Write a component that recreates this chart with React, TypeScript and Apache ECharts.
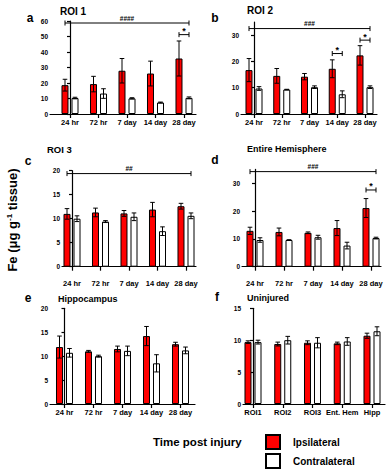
import React, { useEffect, useRef } from 'react';
import * as echarts from 'echarts';

// ---------- data ----------
const timeCats = ['24 hr', '72 hr', '7 day', '14 day', '28 day'];
const regionCats = ['ROI1', 'ROI2', 'ROI3', 'Ent. Hem', 'Hipp'];

const roi1Ipsi = [18.6, 19.3, 27.9, 26.1, 35.8];
const roi1IpsiErr = [3.8, 5.0, 7.9, 8.0, 11.3];
const roi1Contra = [10.3, 13.2, 10.1, 7.4, 10.4];
const roi1ContraErr = [0.5, 3.1, 0.4, 0.3, 0.6];

const roi2Ipsi = [16.7, 14.5, 14.2, 17.2, 22.3];
const roi2IpsiErr = [4.4, 2.8, 1.2, 3.4, 3.7];
const roi2Contra = [9.7, 9.3, 10.2, 7.5, 10.2];
const roi2ContraErr = [0.7, 0.1, 0.5, 1.3, 0.5];

const roi3Ipsi = [11.0, 11.3, 11.1, 11.9, 12.6];
const roi3IpsiErr = [1.1, 0.9, 0.6, 1.5, 0.6];
const roi3Contra = [10.0, 9.4, 10.4, 7.4, 10.6];
const roi3ContraErr = [0.6, 0.2, 0.8, 0.9, 0.6];

const hemiIpsi = [12.9, 12.5, 12.2, 13.9, 21.1];
const hemiIpsiErr = [1.3, 1.4, 0.3, 2.7, 3.4];
const hemiContra = [9.6, 9.6, 10.6, 7.6, 10.3];
const hemiContraErr = [0.8, 0.1, 0.7, 1.2, 0.3];

const hippIpsi = [11.9, 11.0, 11.5, 14.2, 12.5];
const hippIpsiErr = [2.3, 0.2, 0.6, 2.0, 0.4];
const hippContra = [10.7, 10.0, 11.1, 8.5, 11.2];
const hippContraErr = [0.9, 0.2, 1.0, 1.8, 0.7];

const uninjIpsi = [9.7, 9.4, 9.6, 9.5, 10.7];
const uninjIpsiErr = [0.2, 0.3, 0.3, 0.2, 0.4];
const uninjContra = [9.7, 10.0, 9.6, 9.8, 11.4];
const uninjContraErr = [0.3, 0.6, 0.8, 0.6, 0.7];

const ticks60 = [0, 10, 20, 30, 40, 50, 60];
const ticks35 = [0, 10, 20, 30];
const ticks20 = [0, 5, 10, 15, 20];
const ticks15 = [0, 5, 10, 15];

const legendNames = ['Ipsilateral', 'Contralateral'];

// significance brackets: from category, to category, height, label
const bracketsA = [
  { from: 0, to: 4, y: 58.7, label: '####' },
  { from: 4, to: 4, y: 51.2, label: '*' },
];
const bracketsB = [
  { from: 0, to: 4, y: 32.5, label: '###' },
  { from: 3, to: 3, y: 23.0, label: '*' },
  { from: 4, to: 4, y: 28.1, label: '*' },
];
const bracketsC = [{ from: 0, to: 4, y: 19.4, label: '##' }];
const bracketsD = [
  { from: 0, to: 4, y: 34.2, label: '###' },
  { from: 4, to: 4, y: 27.6, label: '*' },
];

// ---------- layout / style ----------
const FONT = '"Liberation Sans", Arial, Helvetica, sans-serif';
const OFF = 5; // half distance between paired bar centres (px)

const panels = [
  { letter: 'a', title: 'ROI 1', titleSize: 10, cats: timeCats, ipsi: roi1Ipsi, ipsiErr: roi1IpsiErr, contra: roi1Contra, contraErr: roi1ContraErr, yMax: 60, yTicks: ticks60, brackets: bracketsA,
    L: { axisX: 50, first: 70, step: 28.5, right: 196, top: 21, bottom: 114, margin: 4, lx: 30, ly: 18, tx: 60, ty: 11 } },
  { letter: 'b', title: 'ROI 2', titleSize: 10, cats: timeCats, ipsi: roi2Ipsi, ipsiErr: roi2IpsiErr, contra: roi2Contra, contraErr: roi2ContraErr, yMax: 35, yTicks: ticks35, brackets: bracketsB,
    L: { axisX: 241, first: 254, step: 27.75, right: 377, top: 22, bottom: 114, margin: 4, lx: 215, ly: 18, tx: 247, ty: 10 } },
  { letter: 'c', title: 'ROI 3', titleSize: 9.5, cats: timeCats, ipsi: roi3Ipsi, ipsiErr: roi3IpsiErr, contra: roi3Contra, contraErr: roi3ContraErr, yMax: 20, yTicks: ticks20, brackets: bracketsC,
    L: { axisX: 62, first: 72, step: 28.5, right: 196, top: 170.7, bottom: 266.7, margin: 13, lx: 28, ly: 161, tx: 47, ty: 149.5 } },
  { letter: 'd', title: 'Entire Hemisphere', titleSize: 9, cats: timeCats, ipsi: hemiIpsi, ipsiErr: hemiIpsiErr, contra: hemiContra, contraErr: hemiContraErr, yMax: 35, yTicks: ticks35, brackets: bracketsD,
    L: { axisX: 242, first: 255, step: 29, right: 381, top: 169.4, bottom: 266.7, margin: 13, lx: 215, ly: 160, tx: 247, ty: 149 } },
  { letter: 'e', title: 'Hippocampus', titleSize: 9, cats: timeCats, ipsi: hippIpsi, ipsiErr: hippIpsiErr, contra: hippContra, contraErr: hippContraErr, yMax: 20, yTicks: ticks20, brackets: [],
    L: { axisX: 50, first: 64.5, step: 29, right: 195, top: 308.3, bottom: 404, margin: 4, lx: 28, ly: 298, tx: 58, ty: 299 } },
  { letter: 'f', title: 'Uninjured', titleSize: 9, cats: regionCats, ipsi: uninjIpsi, ipsiErr: uninjIpsiErr, contra: uninjContra, contraErr: uninjContraErr, yMax: 15, yTicks: ticks15, brackets: [],
    L: { axisX: 243, first: 253, step: 29.75, right: 385, top: 308.3, bottom: 404, margin: 4, lx: 217, ly: 297, tx: 247, ty: 298 } },
];

const legendTops = [434, 453];
const lineStyle = { color: '#000', width: 1.2 };

function buildOption() {
  const grid: any[] = [];
  const xAxis: any[] = [];
  const yAxis: any[] = [];
  const series: any[] = [];
  const graphic: any[] = [];

  panels.forEach((p, i) => {
    const L = p.L;
    grid.push({ left: L.axisX, top: L.top, width: L.right - L.axisX, height: L.bottom - L.top });
    const n = p.cats.length;
    const idx = p.cats.map((_, j) => j);
    xAxis.push({
      type: 'value', gridIndex: i,
      min: -(L.first - L.axisX) / L.step,
      max: n - 1 + (L.right - (L.first + (n - 1) * L.step)) / L.step,
      axisLine: { show: true, lineStyle },
      axisTick: { show: true, customValues: idx, length: 4, lineStyle },
      axisLabel: {
        customValues: idx, margin: L.margin, fontSize: 7.5, fontWeight: 'bold', color: '#000', fontFamily: FONT,
        formatter: (v: number) => p.cats[Math.round(v)] ?? '',
      },
      splitLine: { show: false },
    });
    yAxis.push({
      type: 'value', gridIndex: i, min: 0, max: p.yMax,
      axisLine: { show: true, lineStyle },
      axisTick: { show: true, customValues: p.yTicks, length: 3, lineStyle },
      axisLabel: { customValues: p.yTicks, margin: 2, fontSize: 6.5, fontWeight: 'bold', color: '#000', fontFamily: FONT },
      splitLine: { show: false },
    });
    series.push({
      type: 'bar', name: legendNames[0], xAxisIndex: i, yAxisIndex: i,
      data: p.ipsi.map((v, j) => [j, v]), barWidth: 7, barGap: '43%',
      itemStyle: { color: '#ff0000', borderColor: '#000', borderWidth: 1 },
      silent: true,
    });
    series.push({
      type: 'bar', name: legendNames[1], xAxisIndex: i, yAxisIndex: i,
      data: p.contra.map((v, j) => [j, v]), barWidth: 7, barGap: '43%',
      itemStyle: { color: '#ffffff', borderColor: '#000', borderWidth: 1 },
      silent: true,
    });
    const errData = [
      ...p.ipsi.map((v, j) => [j, v, p.ipsiErr[j], -1]),
      ...p.contra.map((v, j) => [j, v, p.contraErr[j], 1]),
    ];
    series.push({
      type: 'custom', xAxisIndex: i, yAxisIndex: i, silent: true, z: 5, clip: false,
      encode: { x: 0, y: 1 },
      data: errData,
      renderItem: (params: any, api: any) => {
        const j = api.value(0), m = api.value(1), e = api.value(2), side = api.value(3);
        const top = api.coord([j, m + e]);
        const bot = api.coord([j, m - e]);
        const x = top[0] + side * OFF;
        const cap = 2.3;
        const st = { stroke: '#000', lineWidth: 1 };
        return {
          type: 'group',
          children: [
            { type: 'line', shape: { x1: x, y1: top[1], x2: x, y2: bot[1] }, style: st },
            { type: 'line', shape: { x1: x - cap, y1: top[1], x2: x + cap, y2: top[1] }, style: st },
            { type: 'line', shape: { x1: x - cap, y1: bot[1], x2: x + cap, y2: bot[1] }, style: st },
          ],
        };
      },
    });
    if (p.brackets.length) {
      series.push({
        type: 'custom', xAxisIndex: i, yAxisIndex: i, silent: true, z: 6, clip: false,
        encode: { x: [0, 1], y: 2 },
        data: p.brackets.map((b) => [b.from, b.to, b.y]),
        renderItem: (params: any, api: any) => {
          const a = api.coord([api.value(0), api.value(2)]);
          const b = api.coord([api.value(1), api.value(2)]);
          const x1 = a[0] - OFF, x2 = b[0] + OFF, y = a[1];
          const cap = 2.5;
          const st = { stroke: '#000', lineWidth: 1 };
          const label = p.brackets[params.dataIndex].label;
          const star = label === '*';
          return {
            type: 'group',
            children: [
              { type: 'line', shape: { x1, y1: y, x2, y2: y }, style: st },
              { type: 'line', shape: { x1, y1: y - cap, x2: x1, y2: y + cap }, style: st },
              { type: 'line', shape: { x1: x2, y1: y - cap, x2, y2: y + cap }, style: st },
              {
                type: 'text', x: (x1 + x2) / 2, y: star ? y + 1 : y - 1.5,
                style: {
                  text: label, textAlign: 'center', textVerticalAlign: 'bottom',
                  font: `bold ${star ? 9 : 6.5}px ${FONT}`, fill: '#000',
                },
              },
            ],
          };
        },
      });
    }
    graphic.push({
      type: 'text', x: L.lx, y: L.ly,
      style: { text: p.letter, font: `bold 12px ${FONT}`, fill: '#000', textAlign: 'center', textVerticalAlign: 'middle' },
    });
    graphic.push({
      type: 'text', x: L.tx, y: L.ty,
      style: { text: p.title, font: `bold ${p.titleSize}px ${FONT}`, fill: '#000', textAlign: 'left', textVerticalAlign: 'middle' },
    });
  });

  graphic.push({
    type: 'text', x: 12, y: 220, rotation: Math.PI / 2,
    style: {
      text: 'Fe (μg g{sup|-1} tissue)',
      font: `bold 13px ${FONT}`, fill: '#000', textAlign: 'center', textVerticalAlign: 'middle',
      rich: { sup: { fontSize: 8, fontWeight: 'bold', fontFamily: FONT, verticalAlign: 'top', fill: '#000' } },
    },
  });
  graphic.push({
    type: 'text', x: 153, y: 442,
    style: { text: 'Time post injury', font: `bold 11.5px ${FONT}`, fill: '#000', textAlign: 'left', textVerticalAlign: 'middle' },
  });

  const legend = legendNames.map((name, k) => ({
    orient: 'vertical', left: 265, top: legendTops[k], padding: 0, itemWidth: 14, itemHeight: 14,
    icon: 'rect',
    data: [name], selectedMode: false,
    itemStyle: { borderColor: '#000', borderWidth: 2 },
    textStyle: { fontSize: 10, fontWeight: 'bold', fontFamily: FONT, color: '#000', padding: [0, 0, 0, 8] },
  }));

  return { animation: false, grid, xAxis, yAxis, series, graphic, legend };
}

export default function App() {
  const ref = useRef<HTMLDivElement>(null);
  useEffect(() => {
    if (!ref.current) return;
    const chart = echarts.init(ref.current, undefined, { renderer: 'svg' });
    chart.setOption(buildOption() as any);
    return () => chart.dispose();
  }, []);
  return <div ref={ref} style={{ position: 'absolute', left: 0, top: 0, width: 390, height: 470, background: '#fff' }} />;
}
